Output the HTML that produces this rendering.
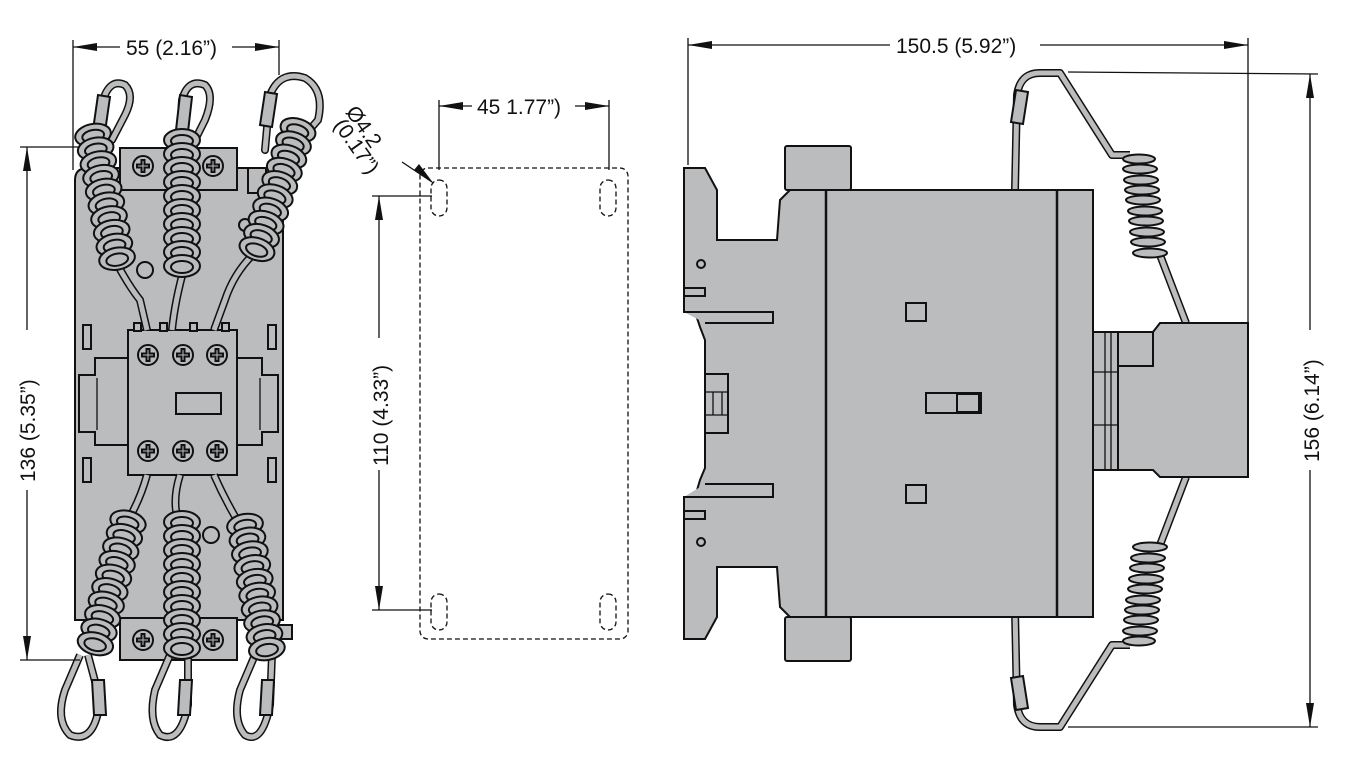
<!DOCTYPE html>
<html><head><meta charset="utf-8"><style>
html,body{margin:0;padding:0;background:#fff}
svg{display:block}
text{font-family:"Liberation Sans Narrow","Liberation Sans",sans-serif;font-size:21px;fill:#111}
.b{fill:#babcbe;stroke:#111;stroke-width:2}
.t{fill:none;stroke:#111;stroke-width:1.3}
.d{fill:none;stroke:#111;stroke-width:1.3;stroke-dasharray:5 3}
.ah{fill:#111}
</style></head><body>
<svg width="1348" height="777" viewBox="0 0 1348 777" xmlns="http://www.w3.org/2000/svg">
<defs>
<g id="ring"><ellipse cx="0" cy="0" rx="18" ry="11" class="b" stroke-width="1.8"/><ellipse cx="0" cy="1" rx="11" ry="6" class="b" stroke-width="1.5"/></g>
<g id="coil">
<use href="#ring" y="0"/><use href="#ring" y="14"/><use href="#ring" y="28"/><use href="#ring" y="42"/><use href="#ring" y="56"/><use href="#ring" y="70"/><use href="#ring" y="84"/><use href="#ring" y="98"/><use href="#ring" y="112"/><use href="#ring" y="126"/>
</g>
<g id="screw"><circle r="10" class="b"/><path d="M-6,-1.5h4.5v-4.5h3v4.5h4.5v3h-4.5v4.5h-3v-4.5h-4.5z" class="b" stroke-width="1.3"/></g>
<g id="rwire">
<path d="M1015,190 L1017,95 Q1020,73 1040,73 L1060,73 L1112,155 L1130,155" fill="none" stroke="#111" stroke-width="8" stroke-linejoin="round"/>
<path d="M1015,190 L1017,95 Q1020,73 1040,73 L1060,73 L1112,155 L1130,155" fill="none" stroke="#babcbe" stroke-width="5" stroke-linejoin="round"/>
<path d="M1011,122 L1016,90 L1028,92 L1023,124z" class="b" stroke-width="1.5"/>
<path d="M1160,255 L1186,323" fill="none" stroke="#111" stroke-width="8"/>
<path d="M1160,255 L1186,323" fill="none" stroke="#babcbe" stroke-width="5"/>
<g class="b" stroke-width="1.6">
<ellipse cx="1139" cy="159" rx="16" ry="4.5"/><ellipse cx="1140" cy="169" rx="17" ry="4.5"/><ellipse cx="1141" cy="180" rx="17" ry="4.5"/><ellipse cx="1142" cy="190" rx="17" ry="4.5"/><ellipse cx="1143" cy="200" rx="17" ry="4.5"/><ellipse cx="1145" cy="211" rx="17" ry="4.5"/><ellipse cx="1146" cy="221" rx="17" ry="4.5"/><ellipse cx="1147" cy="232" rx="17" ry="4.5"/><ellipse cx="1148" cy="242" rx="17" ry="4.5"/><ellipse cx="1150" cy="253" rx="17" ry="4.5"/>
</g>
</g>
</defs>

<!-- ===== LEFT VIEW ===== -->
<g fill="none" stroke-linecap="round">
<path d="M100,130 L103,100 Q110,78 125,85 Q135,95 125,115 L112,140" stroke="#111" stroke-width="8"/>
<path d="M100,130 L103,100 Q110,78 125,85 Q135,95 125,115 L112,140" stroke="#babcbe" stroke-width="5"/>
<path d="M180,135 L182,100 Q188,78 205,85 Q215,95 205,120 L195,140" stroke="#111" stroke-width="8"/>
<path d="M180,135 L182,100 Q188,78 205,85 Q215,95 205,120 L195,140" stroke="#babcbe" stroke-width="5"/>
<path d="M265,150 L270,95 Q280,70 305,78 Q325,90 318,120 L305,135" stroke="#111" stroke-width="8"/>
<path d="M265,150 L270,95 Q280,70 305,78 Q325,90 318,120 L305,135" stroke="#babcbe" stroke-width="5"/>
</g>
<path d="M93,130 L98,95 L110,97 L105,132z" class="b" stroke-width="1.5"/>
<path d="M176,130 L180,95 L192,97 L188,132z" class="b" stroke-width="1.5"/>
<path d="M260,125 L265,92 L277,94 L272,127z" class="b" stroke-width="1.5"/>
<path d="M75,180 Q75,168 88,168 L283,168 L283,620 L75,620z" class="b"/>
<rect x="120" y="148" width="117" height="42" class="b"/>
<use href="#screw" x="143" y="166"/><use href="#screw" x="213" y="166"/>
<rect x="120" y="618" width="117" height="42" class="b"/>
<use href="#screw" x="143" y="640"/><use href="#screw" x="213" y="640"/>
<rect x="248" y="168" width="18" height="25" class="b" stroke-width="1.5"/>
<rect x="276" y="625" width="16" height="14" class="b" stroke-width="1.5"/>
<circle cx="245" cy="225" r="6" class="b"/>
<circle cx="145" cy="270" r="8" class="b"/>
<circle cx="211" cy="535" r="8" class="b"/>
<rect x="83" y="325" width="8" height="24" class="b" stroke-width="1.5"/>
<rect x="268" y="325" width="8" height="24" class="b" stroke-width="1.5"/>
<rect x="83" y="458" width="8" height="24" class="b" stroke-width="1.5"/>
<rect x="268" y="458" width="8" height="24" class="b" stroke-width="1.5"/>
<path d="M128,358 L95,358 L95,375 L79,375 L79,432 L95,432 L95,445 L128,445" class="b" stroke-width="1.6"/>
<path d="M237,358 L262,358 L262,375 L278,375 L278,432 L262,432 L262,445 L237,445" class="b" stroke-width="1.6"/>
<line x1="97" y1="378" x2="97" y2="430" class="t"/><line x1="260" y1="378" x2="260" y2="430" class="t"/>
<rect x="128" y="330" width="109" height="145" class="b"/>
<rect x="134" y="323" width="7" height="8" class="b" stroke-width="1.3"/><rect x="160" y="323" width="7" height="8" class="b" stroke-width="1.3"/><rect x="190" y="323" width="7" height="8" class="b" stroke-width="1.3"/><rect x="222" y="323" width="7" height="8" class="b" stroke-width="1.3"/>
<use href="#screw" x="148" y="355"/><use href="#screw" x="183" y="355"/><use href="#screw" x="217" y="355"/>
<use href="#screw" x="148" y="451"/><use href="#screw" x="183" y="451"/><use href="#screw" x="217" y="451"/>
<rect x="176" y="393" width="45" height="21" class="b" stroke-width="1.5"/>
<g fill="none">
<path d="M115,260 Q128,285 140,300 L147,330 M185,265 Q175,300 172,330 M258,250 Q235,270 225,300 L214,330" stroke="#111" stroke-width="8"/>
<path d="M115,260 Q128,285 140,300 L147,330 M185,265 Q175,300 172,330 M258,250 Q235,270 225,300 L214,330" stroke="#babcbe" stroke-width="5"/>
<path d="M147,475 Q140,500 128,520 M180,475 Q172,500 178,520 M214,475 Q225,500 240,525" stroke="#111" stroke-width="8"/>
<path d="M147,475 Q140,500 128,520 M180,475 Q172,500 178,520 M214,475 Q225,500 240,525" stroke="#babcbe" stroke-width="5"/>
</g>
<g transform="translate(93,135) rotate(-11)"><use href="#coil"/></g>
<g transform="translate(182,140)"><use href="#coil"/></g>
<g transform="translate(298,130) rotate(19)"><use href="#coil"/></g>
<g fill="none">
<path d="M88,655 L100,700 Q95,745 70,735 Q55,720 65,690 L80,655" stroke="#111" stroke-width="8"/>
<path d="M88,655 L100,700 Q95,745 70,735 Q55,720 65,690 L80,655" stroke="#babcbe" stroke-width="5"/>
<path d="M188,655 L188,705 Q180,745 160,735 Q148,720 155,690 L170,655" stroke="#111" stroke-width="8"/>
<path d="M188,655 L188,705 Q180,745 160,735 Q148,720 155,690 L170,655" stroke="#babcbe" stroke-width="5"/>
<path d="M272,655 L270,705 Q262,745 245,735 Q232,720 240,690 L255,655" stroke="#111" stroke-width="8"/>
<path d="M272,655 L270,705 Q262,745 245,735 Q232,720 240,690 L255,655" stroke="#babcbe" stroke-width="5"/>
</g>
<path d="M92,680 L104,680 L106,715 L94,715z" class="b" stroke-width="1.5"/>
<path d="M180,680 L192,680 L190,715 L178,715z" class="b" stroke-width="1.5"/>
<path d="M262,680 L274,680 L272,715 L260,715z" class="b" stroke-width="1.5"/>
<g transform="translate(128,522) rotate(15)"><use href="#coil"/></g>
<g transform="translate(182,522)"><use href="#coil"/></g>
<g transform="translate(245,525) rotate(-10)"><use href="#coil"/></g>

<!-- left dims -->
<line x1="73" y1="40" x2="73" y2="170" class="t"/>
<line x1="279" y1="40" x2="279" y2="75" class="t"/>
<line x1="73" y1="47" x2="120" y2="47" class="t"/>
<line x1="232" y1="47" x2="279" y2="47" class="t"/>
<polygon class="ah" points="73,47 97,43 97,51"/><polygon class="ah" points="279,47 255,43 255,51"/>
<text x="126" y="55">55 (2.16”)</text>
<line x1="20" y1="147" x2="80" y2="147" class="t"/>
<line x1="20" y1="660" x2="80" y2="660" class="t"/>
<line x1="27" y1="147" x2="27" y2="330" class="t"/>
<line x1="27" y1="490" x2="27" y2="660" class="t"/>
<polygon class="ah" points="27,147 23,171 31,171"/><polygon class="ah" points="27,660 23,636 31,636"/>
<text transform="translate(35,482) rotate(-90)">136 (5.35”)</text>

<!-- ===== MIDDLE ===== -->
<rect x="420" y="168" width="208" height="471" rx="8" class="d"/>
<rect x="431" y="180" width="16" height="36" rx="8" class="d"/>
<rect x="600" y="180" width="16" height="36" rx="8" class="d"/>
<rect x="431" y="594" width="16" height="36" rx="8" class="d"/>
<rect x="600" y="594" width="16" height="36" rx="8" class="d"/>
<line x1="439" y1="100" x2="439" y2="170" class="t"/>
<line x1="609" y1="100" x2="609" y2="170" class="t"/>
<line x1="439" y1="106" x2="472" y2="106" class="t"/>
<line x1="575" y1="106" x2="609" y2="106" class="t"/>
<polygon class="ah" points="439,106 463,102 463,110"/><polygon class="ah" points="609,106 585,102 585,110"/>
<text x="477" y="114">45 1.77”)</text>
<line x1="372" y1="196" x2="432" y2="196" class="t"/>
<line x1="372" y1="610" x2="432" y2="610" class="t"/>
<line x1="379" y1="196" x2="379" y2="338" class="t"/>
<line x1="379" y1="470" x2="379" y2="610" class="t"/>
<polygon class="ah" points="379,196 375,220 383,220"/><polygon class="ah" points="379,610 375,586 383,586"/>
<text x="478" y="114" fill="none"></text>
<text transform="translate(388,466) rotate(-90)">110 (4.33”)</text>
<text transform="translate(345,112) rotate(55)">Ø4.2</text>
<text transform="translate(333,125) rotate(55)">(0.17”)</text>
<line x1="402" y1="162" x2="432" y2="182" class="t"/>
<polygon class="ah" points="434,184 414,170 419,164"/>

<!-- ===== RIGHT VIEW ===== -->
<use href="#rwire"/>
<g transform="translate(0,800) scale(1,-1)"><use href="#rwire"/></g>
<rect x="785" y="146" width="66" height="44" rx="2" class="b"/>
<rect x="785" y="617" width="66" height="44" rx="2" class="b"/>
<path d="M684,168 L705,168 L717,190 L717,240 L777,240 L780,200 L790,190 L1093,190 L1093,617 L790,617 L780,607 L777,567 L717,567 L717,617 L705,639 L684,639 L684,497 L695,497 L700,480 L705,468 L705,340 L700,327 L695,312 L684,312z" class="b"/>
<path d="M684,312 L773,312 L773,323 L705,323 M684,497 L773,497 L773,484 L705,484" class="b" stroke-width="1.6"/>
<rect x="684" y="288" width="21" height="8" class="b" stroke-width="1.3"/>
<rect x="684" y="511" width="21" height="8" class="b" stroke-width="1.3"/>
<circle cx="701" cy="264" r="4" class="b"/><circle cx="701" cy="542" r="4" class="b"/>
<rect x="705" y="374" width="23" height="59" class="b" stroke-width="1.5"/>
<line x1="713" y1="392" x2="713" y2="415" class="t"/><line x1="722" y1="392" x2="722" y2="415" class="t"/><line x1="705" y1="392" x2="728" y2="392" class="t"/><line x1="705" y1="415" x2="728" y2="415" class="t"/>
<line x1="826" y1="190" x2="826" y2="617" stroke="#111" stroke-width="2.5"/>
<line x1="1057" y1="190" x2="1057" y2="617" stroke="#111" stroke-width="2.5"/>
<rect x="906" y="303" width="20" height="18" class="b" stroke-width="1.6"/>
<rect x="906" y="485" width="20" height="18" class="b" stroke-width="1.6"/>
<rect x="926" y="393" width="55" height="20" class="b" stroke-width="1.6"/>
<rect x="957" y="394" width="22" height="18" class="b" stroke-width="2.2"/>
<rect x="1093" y="332" width="25" height="138" class="b" stroke-width="1.5"/>
<line x1="1105" y1="332" x2="1105" y2="470" class="t"/><line x1="1111" y1="332" x2="1111" y2="470" class="t"/>
<path d="M1118,332 L1153,332 L1153,366 L1118,366z" class="b" stroke-width="1.6"/>
<path d="M1153,332 L1160,323 L1248,323 L1248,477 L1160,477 L1153,470 L1118,470 L1118,366 L1153,366z" class="b"/>
<line x1="1093" y1="372" x2="1118" y2="372" class="t"/><line x1="1093" y1="425" x2="1118" y2="425" class="t"/>

<!-- right dims -->
<line x1="688" y1="38" x2="688" y2="165" class="t"/>
<line x1="1248" y1="38" x2="1248" y2="322" class="t"/>
<line x1="688" y1="45" x2="890" y2="45" class="t"/>
<line x1="1040" y1="45" x2="1248" y2="45" class="t"/>
<polygon class="ah" points="688,45 712,41 712,49"/><polygon class="ah" points="1248,45 1224,41 1224,49"/>
<text x="896" y="53">150.5 (5.92”)</text>
<line x1="1068" y1="72" x2="1318" y2="74" class="t"/>
<line x1="1068" y1="727" x2="1318" y2="727" class="t"/>
<line x1="1310" y1="74" x2="1310" y2="330" class="t"/>
<line x1="1310" y1="470" x2="1310" y2="727" class="t"/>
<polygon class="ah" points="1310,74 1306,98 1314,98"/><polygon class="ah" points="1310,727 1306,703 1314,703"/>
<text transform="translate(1319,462) rotate(-90)">156 (6.14”)</text>
</svg>
</body></html>
